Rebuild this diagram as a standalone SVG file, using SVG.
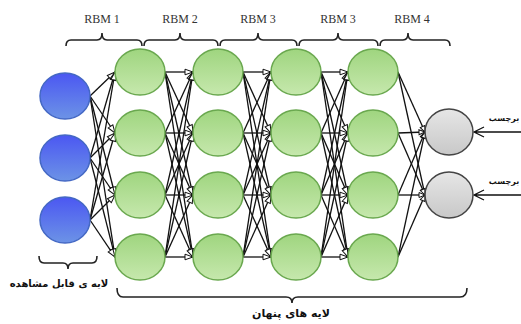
<svg xmlns="http://www.w3.org/2000/svg" width="521" height="324" viewBox="0 0 521 324">
<defs>
<linearGradient id="gBlue" x1="0" y1="0" x2="0" y2="1"><stop offset="0" stop-color="#4b57f2"/><stop offset="1" stop-color="#6c93e6"/></linearGradient>
<linearGradient id="gGreen" x1="0" y1="0" x2="0" y2="1"><stop offset="0" stop-color="#9fd57f"/><stop offset="1" stop-color="#c6e8ad"/></linearGradient>
<linearGradient id="gGray" x1="0" y1="0" x2="0" y2="1"><stop offset="0" stop-color="#e6e6e6"/><stop offset="1" stop-color="#c8c8c8"/></linearGradient>
<marker id="arr" markerUnits="userSpaceOnUse" markerWidth="10" markerHeight="8" refX="9" refY="4" orient="auto"><path d="M1 1.2L9 4L1 6.8Z" fill="#fff" stroke="#111" stroke-width="1"/></marker>
<marker id="arrS" markerUnits="userSpaceOnUse" markerWidth="8" markerHeight="7" refX="7" refY="3.5" orient="auto"><path d="M1 1L7 3.5L1 6Z" fill="#fff" stroke="#111" stroke-width="1"/></marker>
</defs>
<style>
.blue{fill:url(#gBlue);stroke:#4468c4;stroke-width:1.5}
.green{fill:url(#gGreen);stroke:#6aa84f;stroke-width:1.5}
.gray{fill:url(#gGray);stroke:#444;stroke-width:1.5}
.c path{fill:none;stroke:#111;stroke-width:1.3;marker-end:url(#arr)}
.c .s{marker-end:url(#arrS)}
.c .in{marker-end:none}
.br{fill:none;stroke:#222;stroke-width:1.6}
.rbm{font-family:"Liberation Serif",serif;font-size:12px;fill:#333;text-anchor:middle}
.fa{font-family:"DejaVu Sans",sans-serif;font-weight:bold;fill:#111;text-anchor:middle}
</style>
<rect width="521" height="324" fill="#fff"/>
<g id="connectors" class="c">
<path d="M90 96L115 72"/><path d="M90 96L115 133"/><path d="M90 96L115 195"/><path d="M90 96L115 257"/>
<path d="M90 158L115 72"/><path d="M90 158L115 133"/><path d="M90 158L115 195"/><path d="M90 158L115 257"/>
<path d="M90 220L115 72"/><path d="M90 220L115 133"/><path d="M90 220L115 195"/><path d="M90 220L115 257"/>
<path d="M165 72L193 72"/><path d="M165 72L193 133"/><path d="M165 72L193 195"/><path d="M165 72L193 257"/>
<path d="M165 133L193 72"/><path d="M165 133L193 133"/><path d="M165 133L193 195"/><path d="M165 133L193 257"/>
<path d="M165 195L193 72"/><path d="M165 195L193 133"/><path d="M165 195L193 195"/><path d="M165 195L193 257"/>
<path d="M165 257L193 72"/><path d="M165 257L193 133"/><path d="M165 257L193 195"/><path d="M165 257L193 257"/>
<path d="M243 72L271 72"/><path d="M243 72L271 133"/><path d="M243 72L271 195"/><path d="M243 72L271 257"/>
<path d="M243 133L271 72"/><path d="M243 133L271 133"/><path d="M243 133L271 195"/><path d="M243 133L271 257"/>
<path d="M243 195L271 72"/><path d="M243 195L271 133"/><path d="M243 195L271 195"/><path d="M243 195L271 257"/>
<path d="M243 257L271 72"/><path d="M243 257L271 133"/><path d="M243 257L271 195"/><path d="M243 257L271 257"/>
<path d="M321 72L348 72"/><path d="M321 72L348 133"/><path d="M321 72L348 195"/><path d="M321 72L348 257"/>
<path d="M321 133L348 72"/><path d="M321 133L348 133"/><path d="M321 133L348 195"/><path d="M321 133L348 257"/>
<path d="M321 195L348 72"/><path d="M321 195L348 133"/><path d="M321 195L348 195"/><path d="M321 195L348 257"/>
<path d="M321 257L348 72"/><path d="M321 257L348 133"/><path d="M321 257L348 195"/><path d="M321 257L348 257"/>
<path class="s" d="M398 72L425 132"/><path class="s" d="M398 72L425 195"/>
<path class="s" d="M398 133L425 132"/><path class="s" d="M398 133L425 195"/>
<path class="s" d="M398 195L425 132"/><path class="s" d="M398 195L425 195"/>
<path class="s" d="M398 257L425 132"/><path class="s" d="M398 257L425 195"/>
<path class="in" d="M521 132L474 132M484 127L474 132L484 137"/>
<path class="in" d="M521 195L474 195M484 190L474 195L484 200"/>
</g>
<g id="v1"><ellipse class="blue" cx="65" cy="96" rx="25" ry="23"/></g>
<g id="v2"><ellipse class="blue" cx="65" cy="158" rx="25" ry="23"/></g>
<g id="v3"><ellipse class="blue" cx="65" cy="220" rx="25" ry="23"/></g>
<g id="h1-1"><ellipse class="green" cx="140" cy="72" rx="25" ry="23"/></g>
<g id="h1-2"><ellipse class="green" cx="140" cy="133" rx="25" ry="23"/></g>
<g id="h1-3"><ellipse class="green" cx="140" cy="195" rx="25" ry="23"/></g>
<g id="h1-4"><ellipse class="green" cx="140" cy="257" rx="25" ry="23"/></g>
<g id="h2-1"><ellipse class="green" cx="218" cy="72" rx="25" ry="23"/></g>
<g id="h2-2"><ellipse class="green" cx="218" cy="133" rx="25" ry="23"/></g>
<g id="h2-3"><ellipse class="green" cx="218" cy="195" rx="25" ry="23"/></g>
<g id="h2-4"><ellipse class="green" cx="218" cy="257" rx="25" ry="23"/></g>
<g id="h3-1"><ellipse class="green" cx="296" cy="72" rx="25" ry="23"/></g>
<g id="h3-2"><ellipse class="green" cx="296" cy="133" rx="25" ry="23"/></g>
<g id="h3-3"><ellipse class="green" cx="296" cy="195" rx="25" ry="23"/></g>
<g id="h3-4"><ellipse class="green" cx="296" cy="257" rx="25" ry="23"/></g>
<g id="h4-1"><ellipse class="green" cx="373" cy="72" rx="25" ry="23"/></g>
<g id="h4-2"><ellipse class="green" cx="373" cy="133" rx="25" ry="23"/></g>
<g id="h4-3"><ellipse class="green" cx="373" cy="195" rx="25" ry="23"/></g>
<g id="h4-4"><ellipse class="green" cx="373" cy="257" rx="25" ry="23"/></g>
<g id="o1"><ellipse class="gray" cx="449" cy="132" rx="24" ry="23"/><text class="fa" x="504" y="121" font-size="8">برچسب</text></g>
<g id="o2"><ellipse class="gray" cx="449" cy="195" rx="24" ry="23"/><text class="fa" x="504" y="184" font-size="8">برچسب</text></g>
<g id="braces">
<path class="br" d="M66 46Q66 40 71 40L97 40Q102 40 102 33Q102 40 107 40L137 40Q142 40 142 46"/>
<text class="rbm" x="102" y="23">RBM 1</text>
<path class="br" d="M144 46Q144 40 149 40L175 40Q180 40 180 33Q180 40 185 40L213 40Q218 40 218 46"/>
<text class="rbm" x="180" y="23">RBM 2</text>
<path class="br" d="M220 46Q220 40 225 40L253 40Q258 40 258 33Q258 40 263 40L292 40Q297 40 297 46"/>
<text class="rbm" x="258" y="23">RBM 3</text>
<path class="br" d="M299 46Q299 40 304 40L333 40Q338 40 338 33Q338 40 343 40L373 40Q378 40 378 46"/>
<text class="rbm" x="338" y="23">RBM 3</text>
<path class="br" d="M380 46Q380 40 385 40L403 40Q408 40 408 33Q408 40 413 40L445 40Q450 40 450 46"/>
<text class="rbm" x="412" y="23">RBM 4</text>
<path class="br" d="M39 256Q39 263 44 263L63 263Q68 263 68 269Q68 263 73 263L92 263Q97 263 97 256"/>
<text class="fa" x="59" y="287" font-size="10">لایه ی قابل مشاهده</text>
<path class="br" d="M117 288Q117 297 123 297L286 297Q292 297 292 303Q292 297 298 297L460 297Q467 297 467 288"/>
<text class="fa" x="291" y="317" font-size="11">لایه های پنهان</text>
</g>
</svg>
